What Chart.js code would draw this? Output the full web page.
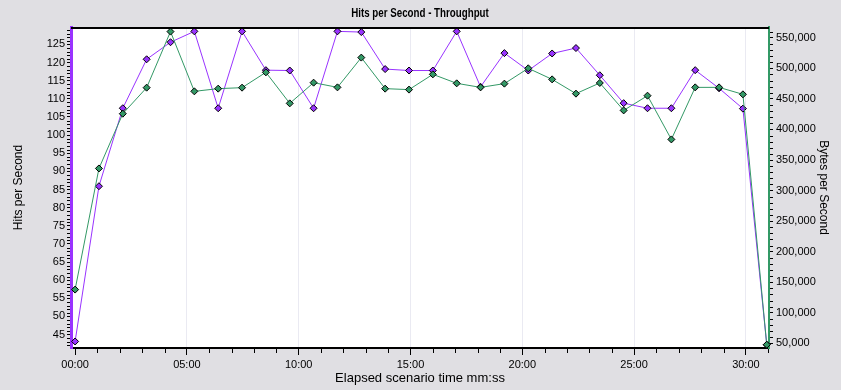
<!DOCTYPE html>
<html>
<head>
<meta charset="utf-8">
<title>Hits per Second - Throughput</title>
<script src="https://cdn.jsdelivr.net/npm/chart.js@4/dist/chart.umd.min.js"></script>
<style>
  html, body { margin: 0; padding: 0; background: #E0DFE3; }
  #wrap { width: 841px; height: 390px; }
</style>
</head>
<body>
<div id="wrap"><canvas id="chart-throughput" width="841" height="390"></canvas></div>
<script>
/*
 * Hits per Second (left axis) and Bytes per Second (right axis)
 * over elapsed scenario time, one sample roughly every 64 s.
 */

/* Elapsed time of each sample, mm:ss */
var SAMPLE_TIMES = [
  '00:00', '01:04', '02:08', '03:12', '04:16', '05:20', '06:24', '07:28',
  '08:32', '09:36', '10:40', '11:44', '12:48', '13:52', '14:56', '16:00',
  '17:04', '18:08', '19:12', '20:16', '21:20', '22:24', '23:28', '24:32',
  '25:36', '26:40', '27:44', '28:48', '29:52', '30:56'
];

/* Hits per second (left axis) */
var HITS = [
  43.1, 85.9, 107.4, 120.9, 125.6, 128.6, 107.4, 128.6,
  117.9, 117.8, 107.4, 128.6, 128.4, 118.2, 117.8, 117.8,
  128.6, 113.3, 122.6, 117.8, 122.5, 124.0, 116.5, 108.8,
  107.4, 107.4, 117.9, 112.9, 107.3, 42.2
];

/* Bytes per second (right axis) */
var BYTES = [
  137900, 336200, 425800, 468400, 560200, 462400, 466800, 468400,
  493500, 442700, 476600, 468900, 517600, 466800, 465200, 490200,
  475500, 468900, 475000, 500100, 482000, 458600, 476100, 431200,
  455300, 383700, 468900, 468900, 457500, 47700
];

/* Axis tick values */
var TIME_TICKS = [0, 300, 600, 900, 1200, 1500, 1800];
var HITS_TICKS = [45, 50, 55, 60, 65, 70, 75, 80, 85, 90, 95, 100, 105, 110, 115, 120, 125];
var BYTES_TICKS = [50000, 100000, 150000, 200000, 250000, 300000, 350000, 400000, 450000, 500000, 550000];

var CHART_TITLE = 'Hits per Second - Throughput';

var HITS_COLOUR = '#9933FF';
var BYTES_COLOUR = '#339966';
var GRID_COLOUR = '#EAEAF2';
var TICK_FONT = { family: "'Liberation Sans', Arial, sans-serif", size: 11 };

function toSeconds(mmss) {
  var p = mmss.split(':');
  return parseInt(p[0], 10) * 60 + parseInt(p[1], 10);
}

function toMMSS(sec) {
  var m = Math.floor(sec / 60), s = sec % 60;
  return (m < 10 ? '0' : '') + m + ':' + (s < 10 ? '0' : '') + s;
}

var hitsPoints = SAMPLE_TIMES.map(function(t, i) { return { x: toSeconds(t), y: HITS[i] }; });
var bytesPoints = SAMPLE_TIMES.map(function(t, i) { return { x: toSeconds(t), y: BYTES[i] }; });

function setTicks(list) {
  return function(scale) {
    scale.ticks = list.map(function(v) { return { value: v }; });
  };
}

/* White plot background, narrow bold title, top frame line and minor tick marks */
var framePlugin = {
  id: 'frame',
  beforeDraw: function(chart) {
    var ctx = chart.ctx, a = chart.chartArea;
    ctx.save();
    ctx.fillStyle = '#FFFFFF';
    ctx.fillRect(a.left, a.top, a.right - a.left, a.bottom - a.top);
    ctx.restore();
  },
  afterDraw: function(chart) {
    var ctx = chart.ctx, a = chart.chartArea;
    var yL = chart.scales.yHits, yR = chart.scales.yBytes, x = chart.scales.x;
    var v, p;
    ctx.save();

    /* title: squeezed horizontally to look like a narrow bold face */
    ctx.save();
    ctx.translate((a.left + a.right) / 2, 13);
    ctx.scale(0.75, 1);
    ctx.font = "bold 13px 'Liberation Sans', Arial, sans-serif";
    ctx.fillStyle = '#000000';
    ctx.textAlign = 'center';
    ctx.textBaseline = 'middle';
    ctx.fillText(CHART_TITLE, 0, 0);
    ctx.restore();

    ctx.fillStyle = '#000000';
    ctx.fillRect(a.left, a.top, a.right - a.left, 2);

    ctx.strokeStyle = '#000000';
    ctx.lineWidth = 1;
    ctx.beginPath();
    /* left: every 1 hit */
    for (v = Math.ceil(yL.min); v <= yL.max; v++) {
      if (v % 5 === 0) continue;
      p = Math.round(yL.getPixelForValue(v)) + 0.5;
      ctx.moveTo(a.left - 4, p);
      ctx.lineTo(a.left - 1, p);
    }
    /* right: every 10,000 bytes */
    for (v = Math.ceil(yR.min / 10000) * 10000; v <= yR.max; v += 10000) {
      if (v % 50000 === 0) continue;
      p = Math.round(yR.getPixelForValue(v)) + 0.5;
      ctx.moveTo(a.right + 1, p);
      ctx.lineTo(a.right + 4, p);
    }
    /* bottom: every minute */
    for (v = 0; v <= x.max; v += 60) {
      if (v % 300 === 0) continue;
      p = Math.round(x.getPixelForValue(v)) + 0.5;
      ctx.moveTo(p, a.bottom + 1);
      ctx.lineTo(p, a.bottom + 5);
    }
    ctx.stroke();
    ctx.restore();
  }
};

new Chart(document.getElementById('chart-throughput').getContext('2d'), {
  type: 'line',
  data: {
    datasets: [
      {
        label: 'Bytes per Second',
        data: bytesPoints,
        yAxisID: 'yBytes',
        borderColor: BYTES_COLOUR,
        backgroundColor: BYTES_COLOUR,
        borderWidth: 1,
        pointStyle: 'rectRot',
        pointRadius: 3.5,
        pointBorderColor: '#000000',
        pointBorderWidth: 1,
        pointBackgroundColor: BYTES_COLOUR,
        tension: 0,
        clip: false
      },
      {
        label: 'Hits per Second',
        data: hitsPoints,
        yAxisID: 'yHits',
        borderColor: HITS_COLOUR,
        backgroundColor: HITS_COLOUR,
        borderWidth: 1,
        pointStyle: 'rectRot',
        pointRadius: 3.5,
        pointBorderColor: '#000000',
        pointBorderWidth: 1,
        pointBackgroundColor: HITS_COLOUR,
        tension: 0,
        clip: false
      }
    ]
  },
  options: {
    responsive: false,
    animation: false,
    events: [],
    layout: { padding: { top: 27 } },
    scales: {
      x: {
        type: 'linear',
        position: 'bottom',
        min: -11,
        max: 1862,
        bounds: 'data',
        afterBuildTicks: setTicks(TIME_TICKS),
        afterFit: function(scale) { scale.height = 42; },
        ticks: {
          autoSkip: false,
          maxRotation: 0,
          padding: 3,
          color: '#000000',
          font: TICK_FONT,
          callback: function(value) { return toMMSS(value); }
        },
        grid: {
          color: function(c) { return c.tick && c.tick.value === 0 ? 'rgba(0,0,0,0)' : GRID_COLOUR; },
          lineWidth: 1,
          tickLength: 7,
          tickColor: '#000000'
        },
        border: { color: '#000000', width: 2 },
        title: {
          display: true,
          text: 'Elapsed scenario time mm:ss',
          color: '#000000',
          font: { family: "'Liberation Sans', Arial, sans-serif", size: 13 },
          padding: { top: 0, bottom: 4 }
        }
      },
      yHits: {
        type: 'linear',
        position: 'left',
        min: 41.3,
        max: 129.8,
        bounds: 'data',
        afterBuildTicks: setTicks(HITS_TICKS),
        afterFit: function(scale) { scale.width = 71; },
        ticks: { padding: 2, color: '#000000', font: TICK_FONT },
        grid: { drawOnChartArea: false, tickLength: 4, tickColor: '#000000' },
        border: { color: HITS_COLOUR, width: 3 },
        title: {
          display: true,
          text: 'Hits per Second',
          color: '#000000',
          font: { family: "'Liberation Sans', Arial, sans-serif", size: 12 },
          padding: { top: 11, bottom: 0 }
        }
      },
      yBytes: {
        type: 'linear',
        position: 'right',
        min: 42300,
        max: 567700,
        bounds: 'data',
        afterBuildTicks: setTicks(BYTES_TICKS),
        afterFit: function(scale) { scale.width = 72; },
        ticks: {
          padding: 3,
          color: '#000000',
          font: TICK_FONT,
          callback: function(value) { return value.toLocaleString('en-US'); }
        },
        grid: { drawOnChartArea: false, tickLength: 4, tickColor: '#000000' },
        border: { color: BYTES_COLOUR, width: 2 },
        title: {
          display: true,
          text: 'Bytes per Second',
          color: '#000000',
          font: { family: "'Liberation Sans', Arial, sans-serif", size: 12 },
          padding: { top: 10, bottom: 0 }
        }
      }
    },
    plugins: {
      legend: { display: false },
      tooltip: { enabled: false },
      title: { display: false }
    }
  },
  plugins: [framePlugin]
});
</script>
</body>
</html>
